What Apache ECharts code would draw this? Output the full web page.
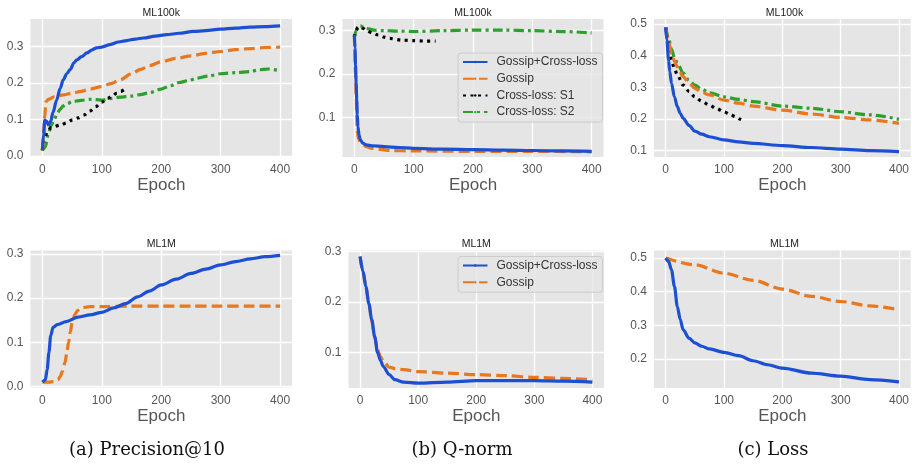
<!DOCTYPE html>
<html>
<head>
<meta charset="utf-8">
<script src="https://cdn.jsdelivr.net/npm/echarts@6/dist/echarts.min.js"></script>
<style>
  html, body { margin: 0; padding: 0; background: #fff; }
  #chart { width: 912px; height: 467px; }
</style>
</head>
<body>
<div id="chart"></div>
<script>
// epoch ticks shared by every panel
const epochTicks = [0, 100, 200, 300, 400]

// (a) Precision@10 - ML100k
const precA_gcl = [[0, 0.016], [2, 0.06], [4, 0.098], [7, 0.095], [10, 0.085], [14, 0.095], [18, 0.12], [24, 0.153], [30, 0.185], [35, 0.208], [41, 0.225], [47, 0.237], [53, 0.255], [58, 0.263], [66, 0.272], [75, 0.282], [83, 0.29], [91, 0.296], [100, 0.298], [114, 0.305], [128, 0.312], [142, 0.316], [156, 0.32], [170, 0.323], [190, 0.328], [209, 0.332], [230, 0.336], [254, 0.341], [275, 0.343], [299, 0.347], [325, 0.35], [349, 0.353], [375, 0.354], [400, 0.356]]
const precA_gossip = [[0, 0.015], [2, 0.05], [4, 0.11], [6, 0.148], [10, 0.155], [20, 0.162], [35, 0.167], [50, 0.172], [65, 0.177], [80, 0.183], [100, 0.19], [115, 0.198], [130, 0.208], [150, 0.225], [165, 0.237], [180, 0.247], [200, 0.258], [225, 0.267], [250, 0.274], [275, 0.281], [300, 0.286], [325, 0.291], [350, 0.294], [375, 0.297], [400, 0.298]]
const precA_s1 = [[0, 0.015], [3, 0.043], [8, 0.066], [15, 0.078], [30, 0.084], [40, 0.09], [50, 0.098], [60, 0.104], [70, 0.112], [80, 0.123], [90, 0.135], [100, 0.147], [110, 0.158], [118, 0.165], [125, 0.172], [132, 0.177], [137, 0.181]]
const precA_s2 = [[0, 0.015], [5, 0.025], [10, 0.061], [15, 0.084], [20, 0.1], [25, 0.117], [30, 0.128], [35, 0.137], [42, 0.143], [50, 0.149], [65, 0.152], [80, 0.155], [100, 0.153], [115, 0.157], [130, 0.161], [150, 0.164], [165, 0.168], [180, 0.173], [200, 0.183], [215, 0.192], [230, 0.201], [245, 0.206], [260, 0.213], [280, 0.219], [300, 0.225], [325, 0.228], [350, 0.231], [365, 0.236], [380, 0.238], [400, 0.233]]

// (b) Q-norm - ML100k
const qnA_gcl = [[0, 0.29], [1, 0.26], [2, 0.22], [3, 0.178], [4, 0.14], [5, 0.105], [6, 0.078], [8, 0.058], [10, 0.048], [14, 0.04], [20, 0.036], [30, 0.034], [50, 0.032], [75, 0.03], [100, 0.028], [150, 0.026], [200, 0.025], [250, 0.024], [300, 0.023], [350, 0.022], [400, 0.021]]
const qnA_gossip = [[0, 0.29], [1, 0.25], [2, 0.2], [3, 0.15], [4, 0.1], [5, 0.065], [7, 0.05], [10, 0.042], [15, 0.036], [20, 0.032], [30, 0.028], [40, 0.026], [60, 0.023], [100, 0.022], [200, 0.021], [300, 0.021], [400, 0.02]]
const qnA_s1 = [[0, 0.285], [3, 0.3], [6, 0.308], [10, 0.309], [15, 0.305], [20, 0.301], [30, 0.295], [40, 0.29], [50, 0.285], [60, 0.282], [80, 0.278], [100, 0.277], [120, 0.276], [137, 0.276]]
const qnA_s2 = [[0, 0.285], [3, 0.3], [6, 0.31], [10, 0.311], [20, 0.305], [35, 0.301], [50, 0.3], [75, 0.299], [100, 0.298], [150, 0.3], [200, 0.3015], [250, 0.3015], [300, 0.3], [350, 0.298], [400, 0.295]]

// (c) Loss - ML100k
const lossA_gcl = [[0, 0.489], [2, 0.45], [5, 0.386], [7, 0.35], [10, 0.313], [15, 0.27], [20, 0.239], [25, 0.218], [30, 0.202], [40, 0.18], [50, 0.162], [62, 0.152], [75, 0.144], [100, 0.134], [125, 0.128], [150, 0.123], [200, 0.116], [250, 0.11], [300, 0.105], [350, 0.1], [400, 0.097]]
const lossA_gossip = [[0, 0.49], [5, 0.445], [10, 0.407], [15, 0.383], [20, 0.365], [30, 0.334], [40, 0.313], [50, 0.297], [62, 0.285], [75, 0.276], [100, 0.26], [125, 0.25], [150, 0.241], [200, 0.228], [250, 0.216], [300, 0.205], [350, 0.197], [400, 0.186]]
const lossA_s1 = [[0, 0.49], [5, 0.439], [10, 0.386], [15, 0.36], [20, 0.339], [30, 0.307], [40, 0.287], [50, 0.27], [62, 0.256], [75, 0.244], [87, 0.233], [100, 0.223], [110, 0.215], [120, 0.207], [128, 0.199], [135, 0.192]]
const lossA_s2 = [[0, 0.49], [5, 0.455], [10, 0.42], [15, 0.395], [20, 0.376], [30, 0.345], [40, 0.322], [50, 0.307], [62, 0.294], [75, 0.283], [100, 0.27], [125, 0.262], [150, 0.255], [200, 0.241], [250, 0.234], [300, 0.223], [350, 0.213], [400, 0.199]]

// ML1M row
const precB_gcl = [[0, 0.01], [5, 0.015], [8, 0.038], [11, 0.077], [14, 0.115], [18, 0.134], [25, 0.14], [40, 0.147], [60, 0.157], [80, 0.162], [100, 0.168], [120, 0.178], [140, 0.1875], [160, 0.203], [180, 0.216], [200, 0.23], [225, 0.243], [250, 0.256], [275, 0.266], [300, 0.2755], [325, 0.283], [350, 0.289], [375, 0.294], [400, 0.297]]
const precB_gossip = [[0, 0.01], [10, 0.01], [20, 0.011], [26, 0.015], [30, 0.023], [34, 0.035], [38, 0.054], [41, 0.075], [44, 0.1], [47, 0.123], [50, 0.145], [55, 0.164], [60, 0.173], [65, 0.178], [80, 0.181], [100, 0.181], [150, 0.182], [200, 0.182], [250, 0.182], [300, 0.182], [350, 0.182], [400, 0.182]]
const qnB_gcl = [[0, 0.29], [5, 0.26], [10, 0.23], [15, 0.197], [20, 0.165], [25, 0.132], [30, 0.1], [35, 0.084], [40, 0.072], [50, 0.056], [60, 0.046], [75, 0.041], [100, 0.039], [150, 0.041], [200, 0.044], [250, 0.044], [300, 0.044], [350, 0.043], [400, 0.041]]
const qnB_gossip = [[0, 0.29], [5, 0.26], [10, 0.23], [15, 0.197], [20, 0.163], [25, 0.13], [30, 0.105], [35, 0.092], [40, 0.082], [50, 0.071], [60, 0.068], [75, 0.066], [100, 0.062], [150, 0.059], [200, 0.056], [250, 0.054], [300, 0.0505], [350, 0.0485], [400, 0.046]]
const lossB_gcl = [[0, 0.5], [5, 0.49], [10, 0.465], [15, 0.416], [20, 0.356], [25, 0.317], [30, 0.287], [40, 0.262], [50, 0.248], [62, 0.238], [75, 0.23], [100, 0.22], [125, 0.21], [150, 0.195], [175, 0.183], [200, 0.173], [250, 0.158], [300, 0.149], [350, 0.139], [400, 0.132]]
const lossB_gossip = [[0, 0.5], [50, 0.48], [100, 0.455], [150, 0.434], [200, 0.408], [250, 0.386], [300, 0.371], [350, 0.358], [400, 0.3465]]

const panelTitles = ['ML100k', 'ML100k', 'ML100k', 'ML1M', 'ML1M', 'ML1M']
const captions = ['(a) Precision@10', '(b) Q-norm', '(c) Loss']

const names = ['Gossip+Cross-loss', 'Gossip', 'Cross-loss: S1', 'Cross-loss: S2']
const colors = ['#1c4fd2', '#e8771e', '#000000', '#2ca02c']
const dashes = ['solid', [11, 5], [3, 4.5], [10, 4, 3, 4]]

// layout of the six plot areas
const grids = [
  { left: 30.5, top: 19, width: 261.5, height: 138 },
  { left: 342.5, top: 19, width: 261, height: 138 },
  { left: 654, top: 19, width: 261, height: 138 },
  { left: 30.5, top: 250.5, width: 261.5, height: 137 },
  { left: 348.5, top: 250.5, width: 255.5, height: 137.5 },
  { left: 654, top: 250.5, width: 261, height: 137.5 }
]
const yRanges = [
  [-0.003, 0.375, [0, 0.1, 0.2, 0.3]],
  [0.008, 0.327, [0.1, 0.2, 0.3]],
  [0.080, 0.516, [0.1, 0.2, 0.3, 0.4, 0.5]],
  [-0.0023, 0.308, [0, 0.1, 0.2, 0.3]],
  [0.0295, 0.302, [0.1, 0.2, 0.3]],
  [0.114, 0.5225, [0.2, 0.3, 0.4, 0.5]]
]
const panelData = [
  [precA_gcl, precA_gossip, precA_s1, precA_s2],
  [qnA_gcl, qnA_gossip, qnA_s1, qnA_s2],
  [lossA_gcl, lossA_gossip, lossA_s1, lossA_s2],
  [precB_gcl, precB_gossip],
  [qnB_gcl, qnB_gossip],
  [lossB_gcl, lossB_gossip]
]

const font = 'Liberation Sans, Arial, sans-serif'

const xAxis = grids.map((g, i) => ({
  type: 'value',
  gridIndex: i,
  min: -20,
  max: 420,
  name: 'Epoch',
  nameLocation: 'middle',
  nameGap: 19,
  nameTextStyle: { fontSize: 17, color: '#555', fontFamily: font },
  axisLine: { show: false },
  axisTick: { show: false, customValues: epochTicks },
  axisLabel: { customValues: epochTicks, color: '#555', fontSize: 12, fontFamily: font, margin: 7 },
  splitLine: { show: true, lineStyle: { color: '#fff', width: 1.3 } }
}))

const yAxis = yRanges.map((r, i) => ({
  type: 'value',
  gridIndex: i,
  min: r[0],
  max: r[1],
  axisLine: { show: false },
  axisTick: { show: false, customValues: r[2] },
  axisLabel: {
    customValues: r[2],
    color: '#555',
    fontSize: 12,
    fontFamily: font,
    margin: 7,
    formatter: v => v.toFixed(1)
  },
  splitLine: { show: true, lineStyle: { color: '#fff', width: 1.3 } }
}))

const series = []
panelData.forEach((lines, p) => {
  lines.forEach((d, k) => {
    series.push({
      type: 'line',
      name: names[k],
      xAxisIndex: p,
      yAxisIndex: p,
      data: d,
      symbol: 'none',
      smooth: 0.3,
      smoothMonotone: 'x',
      color: colors[k],
      lineStyle: { width: 3.2, type: dashes[k], color: colors[k] },
      z: 10 - k
    })
  })
})

const graphic = []
grids.forEach((g, i) => {
  graphic.push({
    type: 'text',
    x: g.left + g.width / 2,
    y: g.top - 6,
    style: {
      text: panelTitles[i],
      fill: '#222',
      font: '10.5px ' + font,
      textAlign: 'center',
      textVerticalAlign: 'middle'
    }
  })
})
const captionX = [147, 462, 773]
captions.forEach((c, i) => {
  graphic.push({
    type: 'text',
    x: captionX[i],
    y: 450,
    style: {
      text: c,
      fill: '#111',
      font: '18px DejaVu Serif, Liberation Serif, serif',
      textAlign: 'center',
      textVerticalAlign: 'middle'
    }
  })
})

const legendBase = {
  orient: 'vertical',
  backgroundColor: 'rgba(229,229,229,0.8)',
  borderColor: '#cccccc',
  borderWidth: 1,
  borderRadius: 3,
  padding: [3, 5, 4, 4],
  itemWidth: 24.5,
  itemHeight: 3,
  itemGap: 4.7,
  textStyle: { fontSize: 12, color: '#333', fontFamily: font, padding: [0, 0, 0, 4] },
  selectedMode: false
}

const chart = echarts.init(document.getElementById('chart'), null, { renderer: 'canvas' })
chart.setOption({
  backgroundColor: '#fff',
  animation: false,
  grid: grids.map(g => Object.assign({ show: true, backgroundColor: '#e5e5e5', borderWidth: 0 }, g)),
  xAxis: xAxis,
  yAxis: yAxis,
  legend: [
    Object.assign({ left: 458, top: 53, data: names }, legendBase),
    Object.assign({ left: 458, top: 256.5, data: names.slice(0, 2) }, legendBase)
  ],
  graphic: graphic,
  series: series
})
</script>
</body>
</html>
